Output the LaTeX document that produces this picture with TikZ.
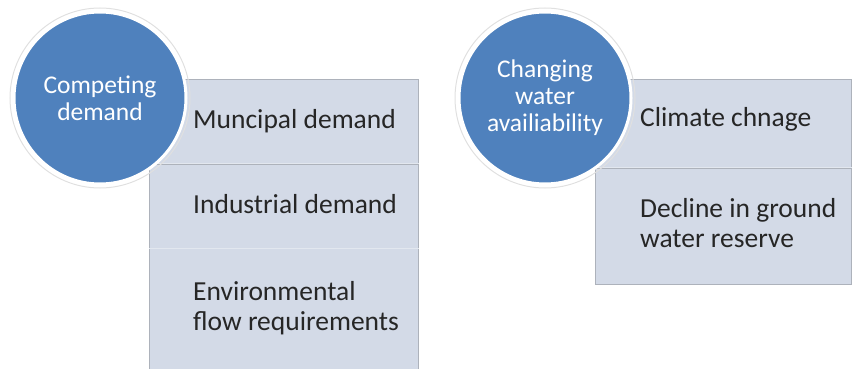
\documentclass[tikz,border=0pt]{standalone}
\usepackage{fontspec}
\setmainfont{Carlito}
\usetikzlibrary{positioning}

\definecolor{discblue}{HTML}{4F81BD}
\definecolor{rowfill}{HTML}{D3DAE7}
\definecolor{rowline}{HTML}{ADB2BB}

\begin{document}
\begin{tikzpicture}[x=1pt,y=-1pt,
  disc/.style={circle,fill=discblue,draw=white,line width=3pt,minimum size=172pt,
    inner sep=0pt,align=center,text=white,font=\fontsize{25.5}{27}\selectfont},
  rowbox/.style={rectangle,fill=rowfill,draw=rowline,line width=0.6pt,
    anchor=north west,inner sep=0pt},
  item/.style={inner sep=0pt,align=left,text=black!85,
    font=\fontsize{27.5}{30}\selectfont},
  halo/.style={circle,draw=black!12,line width=1pt,minimum size=180pt,inner sep=0pt}]

  \useasboundingbox (0,0) rectangle (852,369);

  % left group: rows under the first disc
  \node[rowbox,minimum width=269pt,minimum height=84pt] (m1) at (149,79) {};
  \node[rowbox,minimum width=269pt,minimum height=84pt,below=0pt of m1] (m2) {};
  \node[rowbox,minimum width=269pt,minimum height=125pt,below=0pt of m2] (m3) {};
  \draw[white!35!rowfill,line width=1pt] (m1.south west) -- (m1.south east);
  \draw[white!35!rowfill,line width=1pt] (m2.south west) -- (m2.south east);

  \node[item,right=44pt of m1.west] (t1) {Muncipal demand};
  \node[item,right=44pt of m2.west,yshift=2pt] (t2) {Industrial demand};
  \node[item,right=44pt of m3.west,yshift=3pt] (t3) {Environmental\\flow requirements};

  % right group
  \node[rowbox,minimum width=256pt,minimum height=88pt] (c1) at (595,79) {};
  \node[rowbox,minimum width=256pt,minimum height=116pt,below=0pt of c1] (c2) {};
  \draw[white!35!rowfill,line width=1pt] (c1.south west) -- (c1.south east);

  \node[item,right=45pt of c1.west,yshift=4pt] (u1) {Climate chnage};
  \node[item,right=45pt of c2.west,yshift=3pt] (u2) {Decline in ground\\water reserve};

  % discs on top
  \node[halo] (h1) at (100,98) {};
  \node[disc] (d1) at (100,98) {Competing\\demand};
  \node[halo] (h2) at (545,98) {};
  \node[disc] (d2) at (545,98) {Changing\\water\\availiability};
\end{tikzpicture}
\end{document}
